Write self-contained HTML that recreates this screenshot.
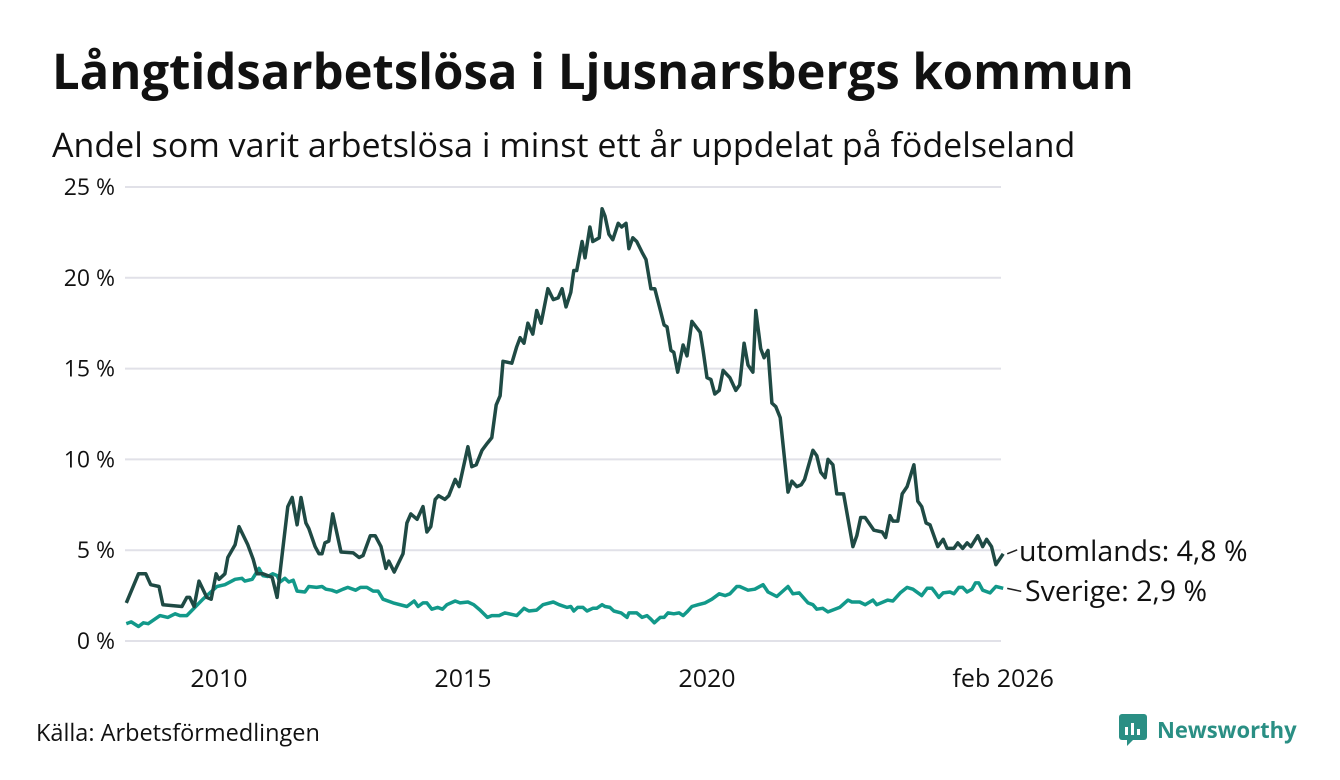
<!DOCTYPE html>
<html><head><meta charset="utf-8">
<style>
body{margin:0;background:#fff;font-family:"Open Sans","Liberation Sans","DejaVu Sans",sans-serif;}
#wrap{position:relative;width:1340px;height:780px;overflow:hidden;}
h1{position:absolute;left:52px;top:38px;margin:0;font-size:49px;line-height:66px;font-weight:bold;color:#111;}
h2{position:absolute;left:52px;top:121px;margin:0;font-size:34px;line-height:46px;font-weight:normal;color:#111;}
#src{position:absolute;left:36px;top:716px;font-size:23.5px;color:#111;}
#logo{position:absolute;left:1119px;top:714px;display:flex;align-items:center;}
#logo span{font-size:22px;font-weight:bold;color:#2a8f84;margin-left:10px;}
</style></head><body>
<div id="wrap">
<h1>Långtidsarbetslösa i Ljusnarsbergs kommun</h1>
<h2>Andel som varit arbetslösa i minst ett år uppdelat på födelseland</h2>
<svg id="chart" width="1340" height="780" style="position:absolute;left:0;top:0"></svg>
<div id="src">Källa: Arbetsförmedlingen</div>
<div id="logo">
<svg width="28" height="32" viewBox="0 0 28 32"><rect x="0" y="0" width="28" height="26" rx="3" fill="#2a8f84"/><polygon points="8,26 14,26 8,32" fill="#2a8f84"/><rect x="6" y="13" width="3" height="8" fill="#fff"/><rect x="12" y="9" width="3" height="12" fill="#fff"/><rect x="18" y="15" width="3" height="6" fill="#fff"/></svg>
<span>Newsworthy</span></div>
</div>
<script>
const yTicks=[0,5,10,15,20,25];
const xTicks=[2010,2015,2020];
const xTickLabels=["2010","2015","2020"];
const endLabel="feb 2026";
const utYears=[2008.1,2008.35,2008.5,2008.6,2008.77,2008.85,2009.24,2009.34,2009.4,2009.49,2009.59,2009.75,2009.84,2009.94,2010.0,2010.12,2010.18,2010.33,2010.41,2010.59,2010.7,2010.78,2010.9,2011.09,2011.19,2011.41,2011.5,2011.6,2011.68,2011.78,2011.84,2011.97,2012.05,2012.11,2012.17,2012.25,2012.33,2012.5,2012.75,2012.87,2012.95,2013.1,2013.2,2013.32,2013.42,2013.48,2013.59,2013.77,2013.85,2013.93,2014.06,2014.18,2014.26,2014.34,2014.43,2014.5,2014.63,2014.71,2014.84,2014.92,2015.1,2015.18,2015.27,2015.39,2015.5,2015.59,2015.68,2015.76,2015.82,2016.0,2016.1,2016.17,2016.25,2016.33,2016.43,2016.51,2016.6,2016.74,2016.85,2016.95,2017.03,2017.11,2017.21,2017.27,2017.33,2017.44,2017.5,2017.6,2017.66,2017.79,2017.85,2017.91,2017.99,2018.07,2018.18,2018.25,2018.34,2018.4,2018.48,2018.56,2018.67,2018.75,2018.85,2018.93,2019.12,2019.18,2019.26,2019.32,2019.4,2019.51,2019.59,2019.69,2019.86,2019.92,2020.0,2020.08,2020.16,2020.25,2020.33,2020.47,2020.59,2020.67,2020.76,2020.84,2020.94,2021.0,2021.1,2021.17,2021.25,2021.33,2021.41,2021.5,2021.66,2021.74,2021.84,2021.93,2022.0,2022.17,2022.25,2022.33,2022.42,2022.48,2022.58,2022.66,2022.8,2022.99,2023.07,2023.15,2023.24,2023.42,2023.59,2023.66,2023.75,2023.81,2023.91,2024.0,2024.1,2024.24,2024.32,2024.4,2024.49,2024.57,2024.73,2024.84,2024.92,2025.06,2025.14,2025.24,2025.33,2025.41,2025.55,2025.65,2025.73,2025.83,2025.92,2026.07];
const utValues=[2.1,3.7,3.7,3.1,3.0,2.0,1.9,2.4,2.4,1.9,3.3,2.4,2.3,3.7,3.4,3.7,4.6,5.3,6.3,5.3,4.5,3.7,3.7,3.5,2.4,7.4,7.9,6.4,7.9,6.5,6.2,5.2,4.8,4.8,5.4,5.5,7.0,4.9,4.85,4.6,4.7,5.8,5.8,5.2,4.0,4.4,3.8,4.8,6.5,7.0,6.7,7.4,6.0,6.3,7.8,8.0,7.8,8.0,8.9,8.5,10.7,9.6,9.7,10.5,10.9,11.2,13.0,13.5,15.4,15.3,16.2,16.7,16.4,17.5,16.9,18.2,17.5,19.4,18.8,18.9,19.4,18.4,19.2,20.4,20.4,22.0,21.1,22.8,22.0,22.2,23.8,23.4,22.4,22.1,23.0,22.8,23.0,21.6,22.2,22.0,21.4,21.0,19.4,19.4,17.4,17.3,16.0,15.9,14.8,16.3,15.7,17.6,17.0,16.0,14.5,14.4,13.6,13.8,14.9,14.5,13.8,14.1,16.4,15.2,14.8,18.2,16.1,15.6,16.0,13.1,12.9,12.3,8.2,8.8,8.5,8.6,8.9,10.5,10.2,9.3,9.0,10.0,9.7,8.1,8.1,5.2,5.8,6.8,6.8,6.1,6.0,5.7,6.9,6.6,6.6,8.1,8.5,9.7,7.7,7.4,6.5,6.4,5.2,5.6,5.1,5.1,5.4,5.1,5.4,5.2,5.8,5.2,5.6,5.2,4.2,4.8];
const svYears=[2008.1,2008.2,2008.35,2008.45,2008.55,2008.79,2008.95,2009.1,2009.2,2009.34,2009.67,2009.96,2010.12,2010.33,2010.47,2010.53,2010.68,2010.82,2010.9,2011.0,2011.1,2011.19,2011.25,2011.35,2011.43,2011.52,2011.6,2011.76,2011.84,2012.0,2012.11,2012.19,2012.31,2012.41,2012.54,2012.64,2012.8,2012.9,2013.03,2013.16,2013.26,2013.36,2013.57,2013.85,2014.0,2014.08,2014.18,2014.26,2014.36,2014.48,2014.58,2014.67,2014.84,2014.94,2015.1,2015.22,2015.35,2015.5,2015.59,2015.74,2015.86,2016.1,2016.25,2016.35,2016.51,2016.64,2016.85,2016.97,2017.13,2017.21,2017.27,2017.35,2017.46,2017.54,2017.66,2017.74,2017.85,2017.91,2018.01,2018.09,2018.24,2018.36,2018.4,2018.56,2018.67,2018.77,2018.85,2018.92,2019.04,2019.12,2019.2,2019.32,2019.43,2019.51,2019.59,2019.69,2019.82,2019.96,2020.1,2020.25,2020.37,2020.47,2020.61,2020.67,2020.84,2020.98,2021.15,2021.25,2021.43,2021.66,2021.76,2021.89,2022.07,2022.17,2022.25,2022.37,2022.48,2022.72,2022.89,2022.97,2023.13,2023.24,2023.4,2023.48,2023.7,2023.81,2023.96,2024.1,2024.22,2024.4,2024.51,2024.61,2024.67,2024.75,2024.84,2024.98,2025.06,2025.16,2025.24,2025.33,2025.43,2025.5,2025.57,2025.65,2025.8,2025.92,2026.07];
const svValues=[0.95,1.05,0.8,1.0,0.95,1.4,1.3,1.5,1.4,1.4,2.3,3.0,3.1,3.4,3.45,3.3,3.4,4.0,3.6,3.55,3.7,3.6,3.25,3.45,3.25,3.35,2.75,2.7,3.0,2.95,3.0,2.85,2.8,2.7,2.85,2.95,2.8,2.95,2.95,2.75,2.75,2.3,2.1,1.9,2.2,1.9,2.1,2.1,1.75,1.85,1.75,2.0,2.2,2.1,2.15,2.0,1.7,1.3,1.4,1.4,1.55,1.4,1.8,1.65,1.7,2.0,2.15,2.0,1.85,1.9,1.65,1.85,1.85,1.65,1.8,1.8,2.0,1.9,1.85,1.65,1.55,1.3,1.55,1.55,1.3,1.4,1.2,1.0,1.3,1.3,1.55,1.5,1.55,1.4,1.6,1.9,2.0,2.1,2.3,2.6,2.5,2.6,3.0,3.0,2.8,2.85,3.1,2.7,2.45,3.0,2.6,2.65,2.1,2.0,1.75,1.8,1.6,1.85,2.25,2.15,2.15,2.0,2.25,2.0,2.25,2.2,2.65,2.95,2.85,2.5,2.9,2.9,2.7,2.4,2.65,2.7,2.6,2.95,2.95,2.7,2.85,3.2,3.2,2.8,2.65,3.0,2.9];
const seriesLabels=["utomlands: 4,8 %","Sverige: 2,9 %"];

const NS="http://www.w3.org/2000/svg";
const svg=document.getElementById('chart');
const x=v=>219+(v-2010)*48.8;
const y=v=>641-v*18.16;
function mk(t,a){const e=document.createElementNS(NS,t);for(const k in a)e.setAttribute(k,a[k]);svg.appendChild(e);return e;}
yTicks.forEach(t=>{
  const l=mk('line',{x1:125,x2:1001,y1:y(t),y2:y(t),stroke:'#e1e1e8','stroke-width':2});
  
  
  const tx=mk('text',{x:115,y:y(t)+8,'text-anchor':'end','font-size':23,fill:'#111'});
  tx.textContent=t+' %';
  
  
});
xTicks.forEach((t,i)=>{
  const tx=mk('text',{x:x(t),y:687,'text-anchor':'middle','font-size':25,fill:'#111'});
  tx.textContent=xTickLabels[i];
  
  
});
const et=mk('text',{x:x(utYears[utYears.length-1]),y:687,'text-anchor':'middle','font-size':25,fill:'#111'});
et.textContent=endLabel;


function line(xs,vs,col,name){
  const d=xs.map((v,i)=>(i?'L':'M')+x(v).toFixed(1)+','+y(vs[i]).toFixed(1)).join('');
  const p=mk('path',{d:d,fill:'none',stroke:col,'stroke-width':3.5,'stroke-linejoin':'round'});
  
  
}
line(svYears,svValues,'#12998a','line-sverige');
line(utYears,utValues,'#1f4a44','line-utomlands');
const ue=utValues[utValues.length-1], se=svValues[svValues.length-1], xe=x(utYears[utYears.length-1]);
const l1=mk('line',{x1:xe+4,y1:y(ue),x2:xe+14,y2:y(ue)-4,stroke:'#222','stroke-width':1.5});


const l2=mk('line',{x1:xe+4,y1:y(se),x2:xe+18,y2:y(se)+3,stroke:'#222','stroke-width':1.5});


const t1=mk('text',{x:1019,y:561,'font-size':28.5,fill:'#111'});t1.textContent=seriesLabels[0];


const t2=mk('text',{x:1025,y:601,'font-size':28.5,fill:'#111'});t2.textContent=seriesLabels[1];


</script>
</body></html>
